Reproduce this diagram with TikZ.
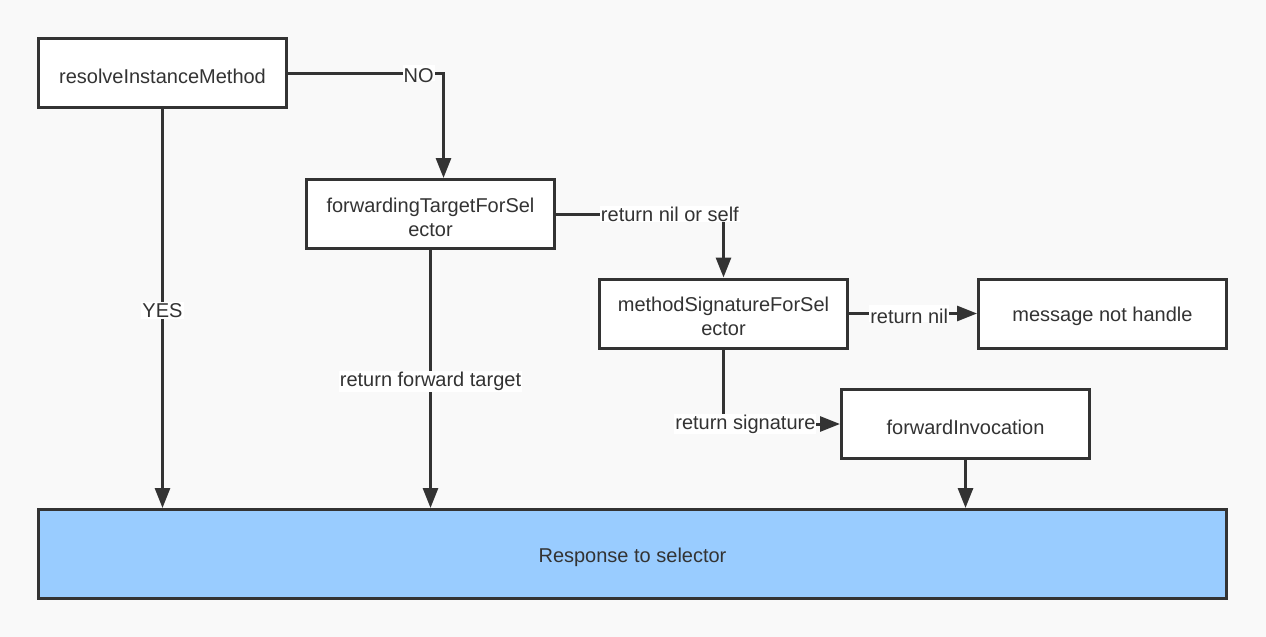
\documentclass[tikz,border=0pt]{standalone}
\usepackage{fontspec}
\setmainfont{Liberation Sans}
\usetikzlibrary{arrows.meta}
\definecolor{bgc}{HTML}{F9F9F9}
\definecolor{linec}{HTML}{333333}
\definecolor{textc}{HTML}{333333}
\definecolor{respc}{HTML}{99CCFF}
\newcommand{\dropTxt}[1]{\raisebox{-3pt}[\height][\depth]{#1}}
\begin{document}
\begin{tikzpicture}[x=1pt,y=-1pt,
  lbl/.style={font=\fontsize{20}{24}\selectfont, text=textc},
  box/.style={lbl, draw=linec, line width=3pt, fill=white, minimum width=248pt, minimum height=69pt, inner sep=0pt, align=center},
  conn/.style={draw=linec, line width=3pt, -{Triangle[length=20pt,width=15pt]}},
  clab/.style={lbl, fill=white, inner sep=1pt}
]
\fill[bgc] (0,0) rectangle (1266,637);
\useasboundingbox (0,0) rectangle (1266,637);

\node[box] (r)  at (162.5,73)  {\dropTxt{resolveInstanceMethod}};
\node[box] (f)  at (430.5,214) {\dropTxt{forwardingTargetForSel}\\\dropTxt{ector}};
\node[box] (m)  at (723.5,313.5) {\dropTxt{methodSignatureForSel}\\\dropTxt{ector}};
\node[box] (n)  at (1102.5,313.5) {\dropTxt{message not handle}};
\node[box] (fi) at (965.5,424) {\dropTxt{forwardInvocation}};
\node[box, fill=respc, minimum width=1188pt, minimum height=89pt] (resp) at (632.5,554) {\dropTxt{Response to selector}};

\draw[conn] (r.east) -| node[clab, pos=0.42] {\dropTxt{NO}} ([xshift=13pt]f.north);
\draw[conn] (r.south) -- node[clab, pos=0.505] {YES} (r.south |- resp.north);
\draw[conn] (f.east) -| node[clab, pos=0.34] {return nil or self} (m.north);
\draw[conn] (f.south) -- node[clab, pos=0.51] {return forward target} (f.south |- resp.north);
\draw[conn] (m.east) -- node[clab, pos=0.47] {\dropTxt{return nil}} (n.west);
\draw[conn] (m.south) |- node[clab, pos=0.594] {return signature} (fi.west);
\draw[conn] (fi.south) -- (fi.south |- resp.north);
\end{tikzpicture}
\end{document}
